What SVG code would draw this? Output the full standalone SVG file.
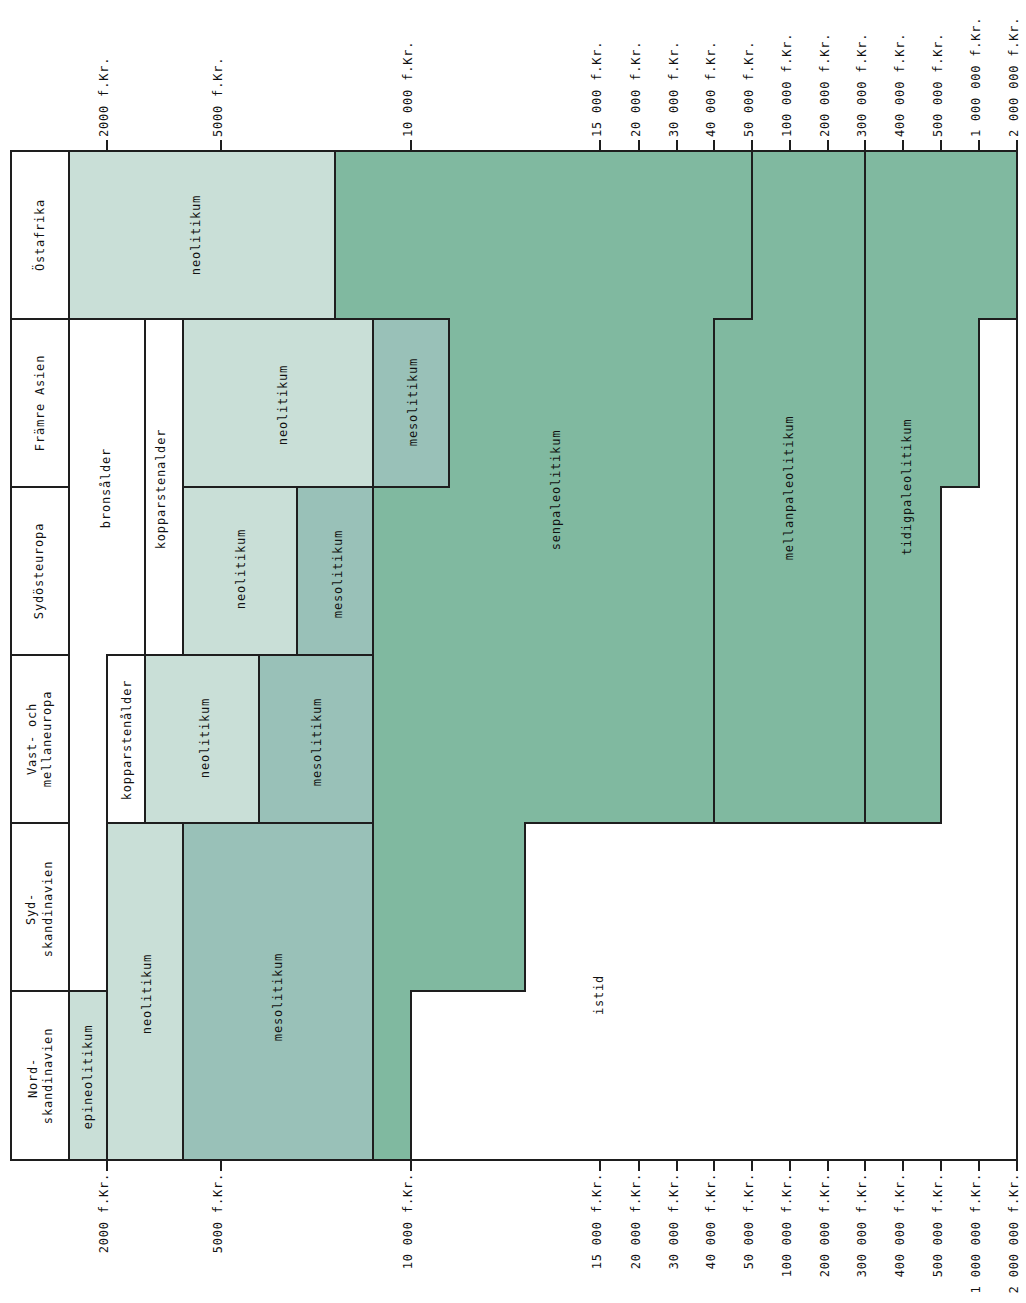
<svg xmlns="http://www.w3.org/2000/svg" width="1026" height="1303" viewBox="0 0 1026 1303">
<style>
.t { font-family: "DejaVu Sans Mono", "Liberation Mono", monospace; font-size: 12px; letter-spacing: 0.8px; fill: #111; }
.c { text-anchor: middle; }
.e { text-anchor: end; }
.box { stroke: #1e1e1e; stroke-width: 2; stroke-linejoin: miter; }
.wh { fill: #ffffff; }
.lt { fill: #c9dfd7; }
.md { fill: #99c1b8; }
.dk { fill: #80b9a0; }
.tick { stroke: #1e1e1e; stroke-width: 2; fill: none; }
</style>
<rect width="1026" height="1303" fill="#ffffff"/>

<!-- region labels -->
<g id="lbl-ostafrika"><rect class="box wh" x="11" y="151" width="58" height="168"/><text class="t c" transform="translate(44,235) rotate(-90)">Östafrika</text></g>
<g id="lbl-framre-asien"><rect class="box wh" x="11" y="319" width="58" height="168"/><text class="t c" transform="translate(44,403) rotate(-90)">Främre Asien</text></g>
<g id="lbl-sydosteuropa"><rect class="box wh" x="11" y="487" width="58" height="168"/><text class="t c" transform="translate(43,571) rotate(-90)">Sydösteuropa</text></g>
<g id="lbl-vast"><rect class="box wh" x="11" y="655" width="58" height="168"/><text class="t c" transform="translate(36,739) rotate(-90)">Vast- och</text><text class="t c" transform="translate(51,739) rotate(-90)">mellaneuropa</text></g>
<g id="lbl-sydskandinavien"><rect class="box wh" x="11" y="823" width="58" height="168"/><text class="t c" transform="translate(35,909) rotate(-90)">Syd-</text><text class="t c" transform="translate(52,909) rotate(-90)">skandinavien</text></g>
<g id="lbl-nordskandinavien"><rect class="box wh" x="11" y="991" width="58" height="169"/><text class="t c" transform="translate(37,1078) rotate(-90)">Nord-</text><text class="t c" transform="translate(52,1076) rotate(-90)">skandinavien</text></g>

<!-- periods -->
<g id="senpaleolitikum"><polygon class="box dk" points="335,151 752,151 752,319 714,319 714,823 525,823 525,991 411,991 411,1160 373,1160 373,487 449,487 449,319 335,319"/><text class="t c" transform="translate(560,490) rotate(-90)">senpaleolitikum</text></g>
<g id="mellanpaleolitikum"><polygon class="box dk" points="752,151 865,151 865,823 714,823 714,319 752,319"/><text class="t c" transform="translate(793,488) rotate(-90)">mellanpaleolitikum</text></g>
<g id="tidigpaleolitikum"><polygon class="box dk" points="865,151 1017,151 1017,319 979,319 979,487 941,487 941,823 865,823"/><text class="t c" transform="translate(911,487) rotate(-90)">tidigpaleolitikum</text></g>
<g id="istid"><polygon class="box wh" points="525,823 941,823 941,487 979,487 979,319 1017,319 1017,1160 411,1160 411,991 525,991"/><text class="t c" transform="translate(603,995) rotate(-90)">istid</text></g>

<g id="ostafrika-neolitikum"><rect class="box lt" x="69" y="151" width="266" height="168"/><text class="t c" transform="translate(200,235) rotate(-90)">neolitikum</text></g>
<g id="bronsalder"><polygon class="box wh" points="69,319 145,319 145,655 107,655 107,991 69,991"/><text class="t c" transform="translate(110,488) rotate(-90)">bronsålder</text></g>
<g id="kopparstenalder-1"><rect class="box wh" x="145" y="319" width="38" height="336"/><text class="t c" transform="translate(165,489) rotate(-90)">kopparstenalder</text></g>
<g id="framre-neolitikum"><rect class="box lt" x="183" y="319" width="190" height="168"/><text class="t c" transform="translate(287,405) rotate(-90)">neolitikum</text></g>
<g id="framre-mesolitikum"><rect class="box md" x="373" y="319" width="76" height="168"/><text class="t c" transform="translate(417,402) rotate(-90)">mesolitikum</text></g>
<g id="sydost-neolitikum"><rect class="box lt" x="183" y="487" width="114" height="168"/><text class="t c" transform="translate(245,569) rotate(-90)">neolitikum</text></g>
<g id="sydost-mesolitikum"><rect class="box md" x="297" y="487" width="76" height="168"/><text class="t c" transform="translate(342,574) rotate(-90)">mesolitikum</text></g>
<g id="vast-kopparstenalder"><rect class="box wh" x="107" y="655" width="38" height="168"/><text class="t c" transform="translate(131,740) rotate(-90)">kopparstenålder</text></g>
<g id="vast-neolitikum"><rect class="box lt" x="145" y="655" width="114" height="168"/><text class="t c" transform="translate(209,738) rotate(-90)">neolitikum</text></g>
<g id="vast-mesolitikum"><rect class="box md" x="259" y="655" width="114" height="168"/><text class="t c" transform="translate(321,742) rotate(-90)">mesolitikum</text></g>
<g id="skandinavien-neolitikum"><rect class="box lt" x="107" y="823" width="76" height="337"/><text class="t c" transform="translate(151,994) rotate(-90)">neolitikum</text></g>
<g id="skandinavien-mesolitikum"><rect class="box md" x="183" y="823" width="190" height="337"/><text class="t c" transform="translate(282,997) rotate(-90)">mesolitikum</text></g>
<g id="epineolitikum"><rect class="box lt" x="69" y="991" width="38" height="169"/><text class="t c" transform="translate(92,1077) rotate(-90)">epineolitikum</text></g>

<!-- frame -->
<rect class="box" x="11" y="151" width="1006" height="1009" fill="none"/>

<!-- time axis -->
<g id="axis">
<path class="tick" d="M107 140V151M221 140V151M411 140V151M600 140V151M639 140V151M677 140V151M714 140V151M752 140V151M790 140V151M828 140V151M865 140V151M903 140V151M941 140V151M979 140V151M1017 140V151"/>
<path class="tick" d="M107 1160V1171M221 1160V1171M411 1160V1171M600 1160V1171M639 1160V1171M677 1160V1171M714 1160V1171M752 1160V1171M790 1160V1171M828 1160V1171M865 1160V1171M903 1160V1171M941 1160V1171M979 1160V1171M1017 1160V1171"/>
<g id="axis-top">
<text class="t" transform="translate(108,137) rotate(-90)">2000 f.Kr.</text>
<text class="t" transform="translate(222,137) rotate(-90)">5000 f.Kr.</text>
<text class="t" transform="translate(412,137) rotate(-90)">10 000 f.Kr.</text>
<text class="t" transform="translate(601,137) rotate(-90)">15 000 f.Kr.</text>
<text class="t" transform="translate(640,137) rotate(-90)">20 000 f.Kr.</text>
<text class="t" transform="translate(678,137) rotate(-90)">30 000 f.Kr.</text>
<text class="t" transform="translate(715,137) rotate(-90)">40 000 f.Kr.</text>
<text class="t" transform="translate(753,137) rotate(-90)">50 000 f.Kr.</text>
<text class="t" transform="translate(791,137) rotate(-90)">100 000 f.Kr.</text>
<text class="t" transform="translate(829,137) rotate(-90)">200 000 f.Kr.</text>
<text class="t" transform="translate(866,137) rotate(-90)">300 000 f.Kr.</text>
<text class="t" transform="translate(904,137) rotate(-90)">400 000 f.Kr.</text>
<text class="t" transform="translate(942,137) rotate(-90)">500 000 f.Kr.</text>
<text class="t" transform="translate(980,137) rotate(-90)">1 000 000 f.Kr.</text>
<text class="t" transform="translate(1018,137) rotate(-90)">2 000 000 f.Kr.</text>
</g>
<g id="axis-bottom">
<text class="t e" transform="translate(108,1173) rotate(-90)">2000 f.Kr.</text>
<text class="t e" transform="translate(222,1173) rotate(-90)">5000 f.Kr.</text>
<text class="t e" transform="translate(412,1173) rotate(-90)">10 000 f.Kr.</text>
<text class="t e" transform="translate(601,1173) rotate(-90)">15 000 f.Kr.</text>
<text class="t e" transform="translate(640,1173) rotate(-90)">20 000 f.Kr.</text>
<text class="t e" transform="translate(678,1173) rotate(-90)">30 000 f.Kr.</text>
<text class="t e" transform="translate(715,1173) rotate(-90)">40 000 f.Kr.</text>
<text class="t e" transform="translate(753,1173) rotate(-90)">50 000 f.Kr.</text>
<text class="t e" transform="translate(791,1173) rotate(-90)">100 000 f.Kr.</text>
<text class="t e" transform="translate(829,1173) rotate(-90)">200 000 f.Kr.</text>
<text class="t e" transform="translate(866,1173) rotate(-90)">300 000 f.Kr.</text>
<text class="t e" transform="translate(904,1173) rotate(-90)">400 000 f.Kr.</text>
<text class="t e" transform="translate(942,1173) rotate(-90)">500 000 f.Kr.</text>
<text class="t e" transform="translate(980,1173) rotate(-90)">1 000 000 f.Kr.</text>
<text class="t e" transform="translate(1018,1173) rotate(-90)">2 000 000 f.Kr.</text>
</g>
</g>
<g id="connectors"/>
</svg>
